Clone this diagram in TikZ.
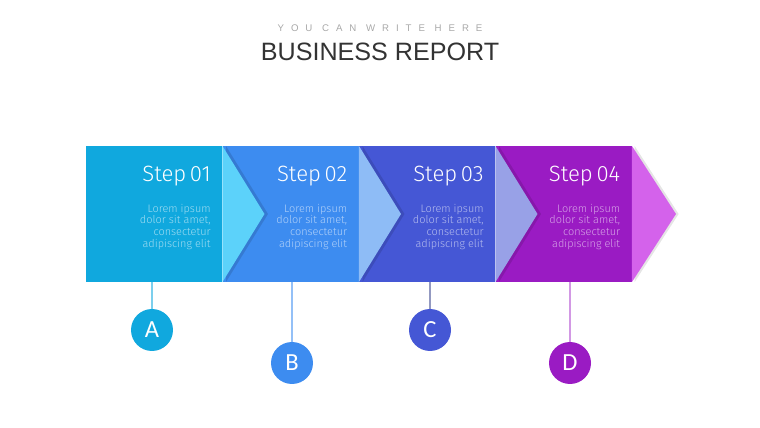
\documentclass[tikz,border=0pt]{standalone}
\usepackage{fontspec}
\setmainfont{Liberation Sans}
\newfontfamily\letterfont{Carlito}
\newfontfamily\lightfont{Fira Sans}[UprightFont=* Light]
\usepackage{tikz}

\definecolor{headgray}{HTML}{A8A8A8}
\definecolor{headdark}{HTML}{333333}
\definecolor{stepA}{HTML}{10A8DE}
\definecolor{stepB}{HTML}{3D8CF0}
\definecolor{stepC}{HTML}{4557D5}
\definecolor{stepD}{HTML}{9A1BC3}
\definecolor{tipA}{HTML}{5CD2FA}
\definecolor{tipB}{HTML}{8EBCF6}
\definecolor{tipC}{HTML}{98A1E7}
\definecolor{tipD}{HTML}{D462EB}

\begin{document}
\begin{tikzpicture}[x=0.02cm, y=-0.02cm]
    \tikzstyle{box}=[minimum width=2.73cm, minimum height=2.72cm, inner sep=0pt, outer sep=0pt];
    \tikzstyle{dot}=[circle, minimum size=0.84cm, inner sep=0pt, text=white, font=\letterfont\fontsize{14}{14}\selectfont];
    \tikzstyle{steptitle}=[anchor=base east, inner sep=0pt, text=white, font=\lightfont\fontsize{12.6}{13}\selectfont];
    \tikzstyle{lorem}=[anchor=north east, inner sep=0pt, align=right, text=white, text opacity=.6, font=\lightfont\fontsize{6.2}{6.8}\selectfont];
    \tikzstyle{stem}=[line width=0.6pt];
    \tikzstyle{shade}=[fill=black, opacity=.12];
    \useasboundingbox (0,0) rectangle (760,428);
    % heading
    \node[text=headgray, font=\fontsize{5.5}{6}\selectfont\addfontfeature{LetterSpace=72}] (sub) at (380,28) {YOU CAN WRITE HERE};
    \node[text=headdark, font=\fontsize{14.3}{15}\selectfont] (head) at (380,52) {BUSINESS REPORT};
    %1
    \begin{scope}[]
    	\node[box, fill=stepA] (s1) at (154.25,214) {};
    	\node[steptitle] (t1) at (211,182) {Step\,01};
    	\node[lorem] (l1) at (211,203.5) {Lorem ipsum\\dolor sit amet,\\consectetur\\adipiscing elit};
    	\node[dot, fill=stepA] (A) at (152,330) {A};
    	\draw[stem, draw=stepA!55] (s1.south -| A) -- (A);
    \end{scope}
    %2
    \begin{scope}[shift={(136.5,0)}]
    	\node[box, fill=stepB] (s2) at (154.25,214) {};
    	\node[steptitle] (t2) at (211,182) {Step\,02};
    	\node[lorem] (l2) at (211,203.5) {Lorem ipsum\\dolor sit amet,\\consectetur\\adipiscing elit};
    	\node[dot, fill=stepB] (B) at (155.5,363) {B};
    	\draw[stem, draw=stepB!55] (s2.south -| B) -- (B);
    \end{scope}
    %3
    \begin{scope}[shift={(273,0)}]
    	\node[box, fill=stepC] (s3) at (154.25,214) {};
    	\node[steptitle] (t3) at (211,182) {Step\,03};
    	\node[lorem] (l3) at (211,203.5) {Lorem ipsum\\dolor sit amet,\\consectetur\\adipiscing elit};
    	\node[dot, fill=stepC] (C) at (157,330) {C};
    	\draw[stem, draw=stepC!45!gray!70] (s3.south -| C) -- (C);
    \end{scope}
    %4
    \begin{scope}[shift={(409.5,0)}]
    	\node[box, fill=stepD] (s4) at (154.25,214) {};
    	\node[steptitle] (t4) at (211,182) {Step\,04};
    	\node[lorem] (l4) at (211,203.5) {Lorem ipsum\\dolor sit amet,\\consectetur\\adipiscing elit};
    	\node[dot, fill=stepD] (D) at (160.5,363) {D};
    	\draw[stem, draw=stepD!45] (s4.south -| D) -- (D);
    \end{scope}
    % arrow tips
    \fill[shade] ([xshift=2pt]s1.north east) -- ([xshift=0.84cm+2pt]s1.east) -- ([xshift=2pt]s1.south east) -- cycle;
    \fill[tipA] (s1.north east) -- ([xshift=0.84cm]s1.east) -- (s1.south east) -- cycle;
    \fill[shade] ([xshift=2pt]s2.north east) -- ([xshift=0.84cm+2pt]s2.east) -- ([xshift=2pt]s2.south east) -- cycle;
    \fill[tipB] (s2.north east) -- ([xshift=0.84cm]s2.east) -- (s2.south east) -- cycle;
    \fill[shade] ([xshift=2pt]s3.north east) -- ([xshift=0.84cm+2pt]s3.east) -- ([xshift=2pt]s3.south east) -- cycle;
    \fill[tipC] (s3.north east) -- ([xshift=0.84cm]s3.east) -- (s3.south east) -- cycle;
    \fill[shade, opacity=.1] ([xshift=1.5pt]s4.north east) -- ([xshift=0.88cm+1.5pt]s4.east) -- ([xshift=1.5pt]s4.south east) -- cycle;
    \fill[tipD] (s4.north east) -- ([xshift=0.88cm]s4.east) -- (s4.south east) -- cycle;
\end{tikzpicture}
\end{document}
